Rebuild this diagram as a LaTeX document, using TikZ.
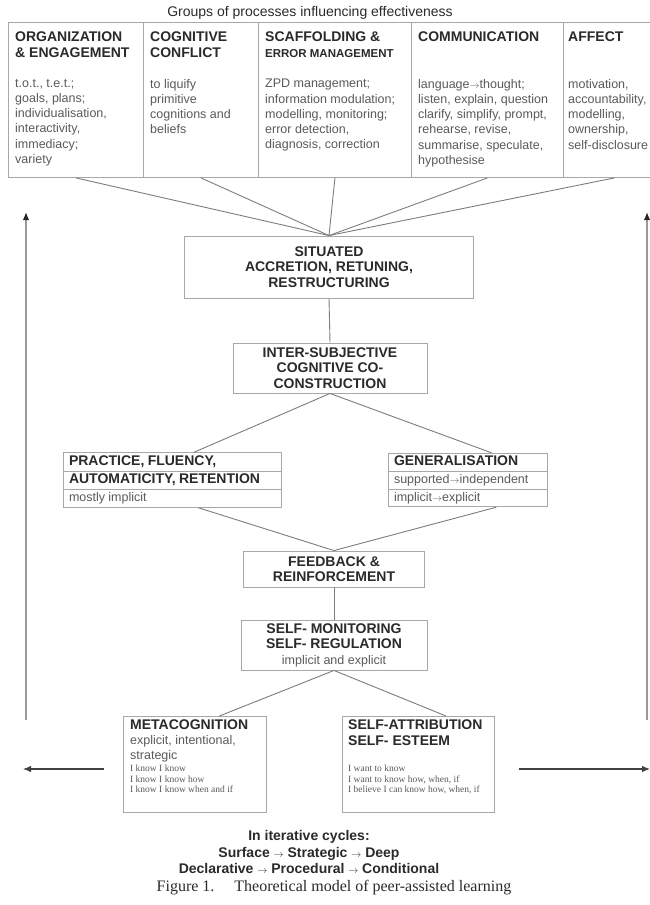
\documentclass[tikz,border=0pt]{standalone}
\usepackage{fontspec}
\setmainfont{Liberation Sans}
\newfontfamily\serifface{Liberation Serif}
\usepackage{tikz}
\usetikzlibrary{calc,shapes,arrows.meta}
\definecolor{boxgrey}{HTML}{A8A8A8}
\definecolor{linegrey}{HTML}{7C7C7C}
\definecolor{headink}{HTML}{2A2A2A}
\definecolor{bodyink}{HTML}{5A5A5A}
\tikzstyle{greybox}=[rectangle,draw=boxgrey,line width=0.9pt,fill=white,inner sep=0pt]
\tikzstyle{headtext}=[font=\fontsize{14}{15.5}\selectfont\bfseries,text=headink,
                      align=left,inner sep=0pt]
\tikzstyle{bodytext}=[font=\fontsize{12.5}{15.2}\selectfont,text=bodyink,
                      align=left,inner sep=0pt]
\tikzstyle{serifnote}=[font=\serifface\fontsize{9.5}{10.5}\selectfont,text=bodyink,
                       align=left,inner sep=0pt]
\tikzstyle{link}=[draw=linegrey,line width=0.9pt]
\tikzstyle{cyclearrow}=[draw=black!75,line width=1.1pt,-{Latex[length=8pt,width=6.5pt]}]
\tikzstyle{cyclerise}=[draw=black!40,line width=1.5pt,-{Latex[length=8pt,width=6.5pt,color=black!85]}]
\newcommand\bighead{\fontsize{14}{16}\selectfont\bfseries\color{headink}}
\newcommand\minorbody{\fontsize{12.5}{15}\selectfont\mdseries\color{bodyink}}
\newcommand\smallarrow{{\fontsize{10}{10}\selectfont$\rightarrow$}}

\begin{document}
\begin{tikzpicture}[x=1pt,y=-1pt]
    \useasboundingbox (0,0) rectangle (650,905);
    \clip (0,0) rectangle (650,905);

    % groups of processes
    \node [font=\fontsize{14}{16}\selectfont,text=headink,inner sep=0pt] (groupstitle) at (310,13)
        {Groups of processes influencing effectiveness};
    \node [greybox,anchor=north west,minimum width=135pt,minimum height=155pt] (organization) at (8,22) {};
    \node [greybox,anchor=north west,minimum width=115pt,minimum height=155pt] (conflict) at (143,22) {};
    \node [greybox,anchor=north west,minimum width=153pt,minimum height=155pt] (scaffolding) at (258,22) {};
    \node [greybox,anchor=north west,minimum width=152pt,minimum height=155pt] (communication) at (411,22) {};
    \node [greybox,anchor=north west,minimum width=102pt,minimum height=155pt] (affect) at (563,22) {};

    \node [headtext,anchor=north west] (organizationhead) at (15,32) {ORGANIZATION\\\& ENGAGEMENT};
    \node [headtext,anchor=north west] (conflicthead) at (150,32) {COGNITIVE\\CONFLICT};
    \node [headtext,anchor=north west] (scaffoldinghead) at (265,32)
        {SCAFFOLDING \&\\{\fontsize{11.5}{15}\selectfont ERROR MANAGEMENT}};
    \node [headtext,anchor=north west] (communicationhead) at (418,32) {COMMUNICATION};
    \node [headtext,anchor=north west] (affecthead) at (568,32) {AFFECT};

    \node [bodytext,anchor=north west] (organizationbody) at (15,79)
        {t.o.t., t.e.t.;\\goals, plans;\\individualisation,\\interactivity,\\immediacy;\\variety};
    \node [bodytext,anchor=north west] (conflictbody) at (150,79)
        {to liquify\\primitive\\cognitions and\\beliefs};
    \node [bodytext,anchor=north west] (scaffoldingbody) at (265,79)
        {ZPD management;\\information modulation;\\modelling, monitoring;\\error detection,\\diagnosis, correction};
    \node [bodytext,anchor=north west] (communicationbody) at (418,79)
        {language\smallarrow thought;\\listen, explain, question\\clarify, simplify, prompt,\\rehearse, revise,\\summarise, speculate,\\hypothesise};
    \node [bodytext,anchor=north west] (affectbody) at (568,79)
        {motivation,\\accountability,\\modelling,\\ownership,\\self-disclosure};

    % central chain
    \node [greybox,headtext,align=center,minimum width=289pt,minimum height=62pt] (situated) at (329,267)
        {SITUATED\\ACCRETION, RETUNING,\\RESTRUCTURING};
    \node [greybox,headtext,align=center,minimum width=194pt,minimum height=50pt] (intersubjective) at (330,368)
        {INTER-SUBJECTIVE\\COGNITIVE CO-\\CONSTRUCTION};
    \node [greybox,rectangle split,rectangle split parts=3,text width=206pt,inner xsep=6pt,inner ysep=0.8pt,
           align=left] (practice) at (172,480)
        {\bighead\strut PRACTICE, FLUENCY,\nodepart{two}\bighead\strut AUTOMATICITY, RETENTION
         \nodepart{three}\minorbody\strut mostly implicit};
    \node [greybox,rectangle split,rectangle split parts=3,text width=147pt,inner xsep=6pt,inner ysep=0.8pt,
           align=left] (generalisation) at (467.5,480)
        {\bighead\strut GENERALISATION\nodepart{two}\minorbody\strut supported\smallarrow independent
         \nodepart{three}\minorbody\strut implicit\smallarrow explicit};
    \node [greybox,headtext,align=center,minimum width=181pt,minimum height=36pt] (feedback) at (334,569)
        {FEEDBACK \&\\REINFORCEMENT};
    \node [greybox,headtext,align=center,minimum width=186pt,minimum height=50pt] (selfmonitoring) at (334,645)
        {SELF- MONITORING\\SELF- REGULATION\\{\minorbody implicit and explicit}};

    % metacognition and self-attribution
    \node [greybox,anchor=north west,minimum width=143pt,minimum height=96pt] (metacognition) at (123,716) {};
    \node [headtext,anchor=north west] (metahead) at (130,720) {METACOGNITION};
    \node [bodytext,anchor=north west] (metabody) at (130,735) {explicit, intentional,\\strategic};
    \node [serifnote,anchor=north west] (metanote) at (130,765)
        {I know I know\\I know I know how\\I know I know when and if};
    \node [greybox,anchor=north west,minimum width=152pt,minimum height=96pt] (selfattribution) at (342,716) {};
    \node [headtext,anchor=north west] (attributionhead) at (348,720) {SELF-ATTRIBUTION\\SELF- ESTEEM};
    \node [serifnote,anchor=north west] (attributionnote) at (348,765)
        {I want to know\\I want to know how, when, if\\I believe I can know how, when, if};

    % connectors
    \foreach \group in {organization,conflict,scaffolding,communication,affect}
        \draw [link] (\group.south) -- (situated.north);
    \draw [link] (situated.south) -- (intersubjective.north);
    \draw [link] (intersubjective.south) -- ($(practice.north west)!0.6!(practice.north east)$);
    \draw [link] (intersubjective.south) -- ($(generalisation.north west)!0.65!(generalisation.north east)$);
    \draw [link] ($(practice.south west)!0.62!(practice.south east)$) -- (feedback.north);
    \draw [link] ($(generalisation.south west)!0.68!(generalisation.south east)$) -- (feedback.north);
    \draw [link] (feedback.south) -- (selfmonitoring.north);
    \draw [link] (selfmonitoring.south) -- ($(metacognition.north west)!0.67!(metacognition.north east)$);
    \draw [link] (selfmonitoring.south) -- ($(selfattribution.north west)!0.68!(selfattribution.north east)$);

    % iterative cycles
    \coordinate (leftfoot) at (26,720);
    \coordinate (lefttop) at (26,212);
    \coordinate (rightfoot) at (647,720);
    \coordinate (righttop) at (647,212);
    \coordinate (leftstart) at (104,769);
    \coordinate (leftend) at (23,769);
    \coordinate (rightstart) at (519,769);
    \coordinate (rightend) at (650,769);
    \draw [cyclerise] (leftfoot) -- (lefttop);
    \draw [cyclerise] (rightfoot) -- (righttop);
    \draw [cyclearrow] (leftstart) -- (leftend);
    \draw [cyclearrow] (rightstart) -- (rightend);

    \node [headtext,align=center,font=\fontsize{14}{16.5}\selectfont\bfseries] (cycles) at (309,852)
        {In iterative cycles:\\Surface \smallarrow\ Strategic \smallarrow\ Deep\\
         Declarative \smallarrow\ Procedural \smallarrow\ Conditional};
    \node [font=\serifface\fontsize{16}{18}\selectfont,text=headink,inner sep=0pt] (caption) at (334,888)
        {Figure 1.\quad\ Theoretical model of peer-assisted learning};
\end{tikzpicture}
\end{document}
